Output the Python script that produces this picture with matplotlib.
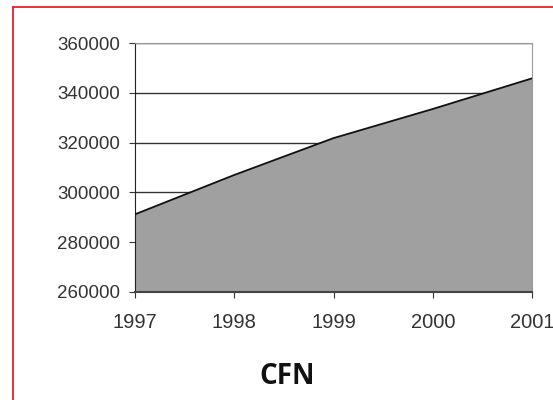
import matplotlib.pyplot as plt
from matplotlib.lines import Line2D

# datos
anios = [1997, 1998, 1999, 2000, 2001]
valores = [291200, 307000, 321800, 333500, 345800]
yticks = [260000, 280000, 300000, 320000, 340000, 360000]

plt.rcParams['font.family'] = ['Liberation Sans', 'DejaVu Sans']

fig = plt.figure(figsize=(5.53, 4.0), dpi=100)
ax = fig.add_axes([135 / 553, 1 - 292 / 400, (532 - 135) / 553, (292 - 43) / 400])

ax.fill_between(anios, valores, 260000, color='#a0a0a0', zorder=2)
ax.plot(anios, valores, color='#111111', lw=1.3, zorder=3)

ax.set_xlim(1997, 2001)
ax.set_ylim(260000, 360000)
ax.set_yticks(yticks)
ax.set_yticklabels([str(v) for v in yticks])
ax.set_xticks(anios)
ax.set_xticklabels([str(a) for a in anios])
ax.grid(axis='y', color='#333333', lw=1.0, zorder=1)
ax.set_axisbelow(True)

for s in ['top', 'right']:
    ax.spines[s].set_color('#999999')
ax.spines['left'].set_color('#222222')
ax.spines['bottom'].set_color('#444444')
ax.spines['bottom'].set_linewidth(1.5)
ax.tick_params(axis='both', colors='#333333', length=4, direction='out')
ax.tick_params(axis='x', pad=11, labelsize=14.5)
ax.tick_params(axis='y', pad=7, labelsize=13.5)

fig.text(287 / 553, 1 - 377 / 400, 'CFN', ha='center', va='center',
         fontsize=20, fontweight='bold', family=['Open Sans', 'DejaVu Sans'], color='#111111')

# marco rojo
fig.add_artist(Line2D([13 / 553, 13 / 553], [0, 1 - 7 / 400], transform=fig.transFigure, color='#e8202a', lw=1.3))
fig.add_artist(Line2D([13 / 553, 1], [1 - 7 / 400, 1 - 7 / 400], transform=fig.transFigure, color='#e8202a', lw=1.3))

fig.savefig('out.png', dpi=100)
